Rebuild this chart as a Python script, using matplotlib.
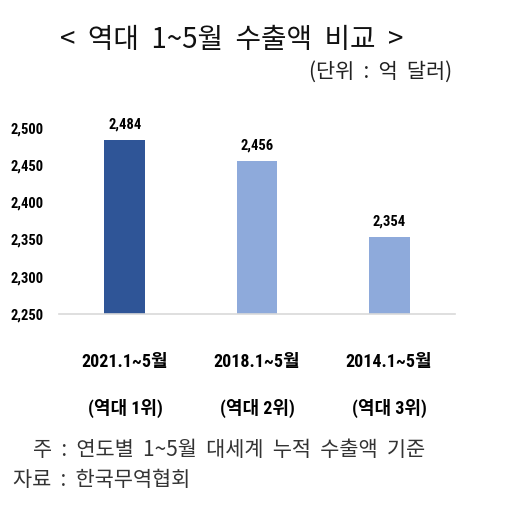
import matplotlib

matplotlib.use("Agg")
from matplotlib import pyplot as plt

periods = ["2021.1~5월", "2018.1~5월", "2014.1~5월"]
ranks = ["(역대 1위)", "(역대 2위)", "(역대 3위)"]
exports = [2484, 2456, 2354]
yticks = [2250, 2300, 2350, 2400, 2450, 2500]

title = "<  역대  1~5월  수출액  비교  >"
unit = "(단위  :  억  달러)"
note = "주  :  연도별  1~5월  대세계  누적  수출액  기준"
source = "자료  :  한국무역협회"

narrow = ["Roboto Condensed", "Open Sans Condensed", "Noto Sans CJK KR", "DejaVu Sans"]
plain = ["Noto Sans CJK KR", "DejaVu Sans"]
colors = ["#2f5597", "#8eaadb", "#8eaadb"]

fig = plt.figure(figsize=(5.31, 5.12), dpi=100)
ax = fig.add_axes([0.111, 0.387, 0.746, 0.392])

x = range(len(exports))
ax.bar(x, [v - yticks[0] for v in exports], bottom=yticks[0], width=0.31, color=colors)
for i, v in zip(x, exports):
    ax.annotate(f"{v:,}", (i, v), xytext=(0, 6), textcoords="offset points",
                ha="center", va="bottom", fontsize=10.5, fontweight="bold", family=narrow)

ax.set_xlim(-0.5, 2.5)
ax.set_ylim(yticks[0], 2520)
ax.set_yticks(yticks)
ax.set_yticklabels([f"{t:,}" for t in yticks], fontsize=10.5, fontweight="bold", family=narrow)
ax.tick_params(axis="y", length=0, pad=11)
ax.set_xticks([])
for side in ["top", "right", "left"]:
    ax.spines[side].set_visible(False)
ax.spines["bottom"].set_color("#d9d9d9")
ax.spines["bottom"].set_linewidth(1.2)

for i, (p, r) in enumerate(zip(periods, ranks)):
    xf = ax.transData.transform((i, 0))[0]
    xf = fig.transFigure.inverted().transform((xf, 0))[0]
    fig.text(xf, 1 - 362 / 512, p, ha="center", va="center", fontsize=13,
             fontweight="bold", family=narrow)
    fig.text(xf, 1 - 408 / 512, r, ha="center", va="center", fontsize=13,
             fontweight="bold", family=narrow)

fig.text(232 / 531, 1 - 40 / 512, title, ha="center", va="center", fontsize=20,
         family=plain, color="#111111")
fig.text(452 / 531, 1 - 72 / 512, unit, ha="right", va="center", fontsize=15,
         family=plain, color="#222222")
fig.text(33 / 531, 1 - 450 / 512, note, ha="left", va="center", fontsize=15,
         family=plain, color="#333333")
fig.text(13 / 531, 1 - 480 / 512, source, ha="left", va="center", fontsize=15,
         family=plain, color="#333333")

fig.savefig("out.png", dpi=100)
